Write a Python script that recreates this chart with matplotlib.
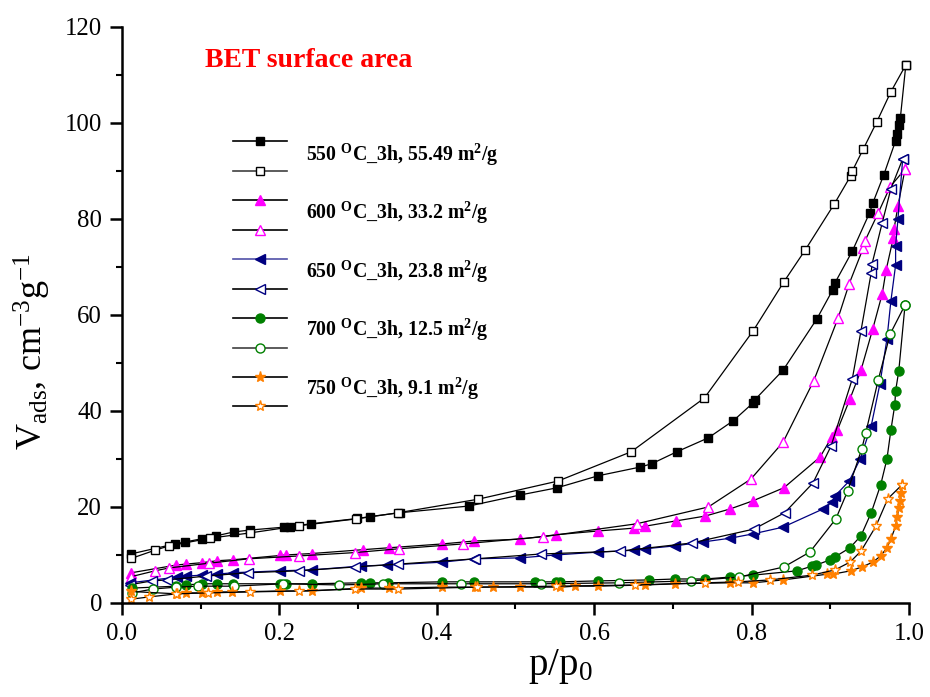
import matplotlib
matplotlib.use("Agg")
import matplotlib.pyplot as plt
from matplotlib.lines import Line2D
from matplotlib.ticker import MultipleLocator

plt.rcParams['font.family'] = ['Liberation Serif', 'DejaVu Serif']
plt.rcParams['mathtext.fontset'] = 'custom'
plt.rcParams['mathtext.rm'] = 'Liberation Serif'
plt.rcParams['mathtext.it'] = 'Liberation Serif:italic'
plt.rcParams['mathtext.bf'] = 'Liberation Serif:bold'

# ---------------- data ----------------
x550_ads = [0.011, 0.067, 0.08, 0.102, 0.12, 0.142, 0.163, 0.206, 0.213, 0.24, 0.299, 0.315, 0.353,
            0.441, 0.506, 0.553, 0.605, 0.658, 0.673, 0.705, 0.745, 0.777, 0.802, 0.804, 0.84, 0.883,
            0.903, 0.906, 0.928, 0.950, 0.954, 0.968, 0.983, 0.985, 0.987, 0.989, 0.996]
y550_ads = [10.2, 12.3, 12.7, 13.4, 14.0, 14.8, 15.2, 15.8, 15.9, 16.5, 17.6, 18.0, 18.8,
            20.2, 22.5, 24.0, 26.5, 28.3, 29.0, 31.5, 34.4, 38.0, 41.7, 42.3, 48.5, 59.2,
            65.2, 66.7, 73.3, 81.3, 83.3, 89.2, 96.3, 97.7, 99.6, 101.0, 112.1]
x550_des = [0.012, 0.042, 0.06, 0.112, 0.163, 0.225, 0.297, 0.351, 0.452, 0.554, 0.647, 0.740,
            0.802, 0.841, 0.868, 0.905, 0.926, 0.928, 0.942, 0.959, 0.977, 0.996]
y550_des = [9.3, 11.0, 11.9, 13.5, 14.6, 16.1, 17.5, 18.8, 21.6, 25.4, 31.5, 42.7,
            56.7, 66.9, 73.5, 83.1, 89.0, 90.0, 94.6, 100.2, 106.5, 112.1]

x600_ads = [0.012, 0.069, 0.081, 0.102, 0.121, 0.141, 0.201, 0.208, 0.241, 0.306, 0.339, 0.407,
            0.447, 0.506, 0.551, 0.605, 0.651, 0.665, 0.704, 0.741, 0.773, 0.802, 0.841, 0.887,
            0.902, 0.909, 0.925, 0.939, 0.954, 0.966, 0.971, 0.980, 0.981, 0.986, 0.995]
y600_ads = [6.3, 7.9, 8.1, 8.4, 8.8, 9.0, 9.9, 10.0, 10.3, 11.1, 11.5, 12.3,
            12.9, 13.3, 14.2, 15.0, 15.6, 16.0, 17.1, 18.1, 19.6, 21.3, 24.0, 30.4,
            34.6, 36.0, 42.5, 48.5, 57.1, 64.4, 69.4, 76.0, 77.9, 82.7, 90.4]
x600_des = [0.012, 0.042, 0.060, 0.111, 0.161, 0.225, 0.296, 0.352, 0.433, 0.535, 0.654, 0.745,
            0.799, 0.840, 0.879, 0.910, 0.924, 0.942, 0.944, 0.961, 0.976, 0.995]
y600_des = [5.5, 6.7, 7.3, 8.3, 9.2, 9.8, 10.5, 11.3, 12.3, 13.8, 16.5, 20.0,
            25.8, 33.5, 46.3, 59.4, 66.5, 74.0, 75.4, 81.3, 86.7, 90.4]

x650_ads = [0.010, 0.070, 0.081, 0.102, 0.121, 0.141, 0.201, 0.241, 0.304, 0.337, 0.407, 0.447,
            0.506, 0.551, 0.605, 0.651, 0.665, 0.703, 0.738, 0.773, 0.802, 0.840, 0.891, 0.902,
            0.906, 0.924, 0.938, 0.952, 0.963, 0.972, 0.977, 0.983, 0.983, 0.986, 0.992]
y650_ads = [4.2, 5.4, 5.6, 5.8, 6.0, 6.3, 6.7, 6.9, 7.7, 7.9, 8.5, 9.2,
            9.4, 10.0, 10.6, 11.0, 11.3, 11.9, 12.7, 13.5, 14.4, 15.8, 19.6, 21.0,
            22.3, 25.4, 30.0, 36.9, 45.6, 55.0, 62.9, 70.4, 74.4, 80.0, 92.5]
x650_des = [0.010, 0.038, 0.057, 0.107, 0.160, 0.225, 0.296, 0.351, 0.449, 0.532, 0.633, 0.724,
            0.803, 0.842, 0.878, 0.901, 0.928, 0.939, 0.952, 0.953, 0.966, 0.977, 0.992]
y650_des = [3.8, 4.6, 4.8, 5.6, 6.3, 6.7, 7.5, 8.1, 9.2, 10.2, 10.8, 12.5,
            15.4, 18.8, 25.0, 32.7, 46.7, 56.7, 68.8, 70.6, 79.2, 86.3, 92.5]

x700_ads = [0.013, 0.069, 0.081, 0.102, 0.121, 0.141, 0.201, 0.208, 0.241, 0.304, 0.315, 0.338,
            0.407, 0.447, 0.525, 0.551, 0.557, 0.605, 0.670, 0.703, 0.741, 0.773, 0.802, 0.858,
            0.877, 0.882, 0.900, 0.906, 0.925, 0.939, 0.952, 0.964, 0.972, 0.977, 0.982, 0.983,
            0.987, 0.995]
y700_ads = [3.1, 3.5, 3.75, 4.0, 4.0, 4.0, 4.0, 4.0, 4.0, 4.2, 4.2, 4.2,
            4.4, 4.4, 4.4, 4.4, 4.4, 4.6, 4.8, 5.0, 5.0, 5.4, 5.8, 6.7,
            7.7, 7.9, 9.0, 9.6, 11.5, 14.0, 18.8, 24.6, 30.0, 36.0, 41.3, 44.2,
            48.3, 62.1]
x700_des = [0.013, 0.039, 0.069, 0.097, 0.142, 0.205, 0.276, 0.332, 0.431, 0.532, 0.632, 0.723,
            0.784, 0.841, 0.874, 0.907, 0.922, 0.940, 0.945, 0.961, 0.976, 0.995]
y700_des = [2.1, 2.9, 3.3, 3.5, 3.5, 4.0, 3.75, 4.0, 4.0, 4.0, 4.2, 4.6,
            5.4, 7.5, 10.6, 17.5, 23.3, 32.1, 35.4, 46.5, 56.0, 62.1]

x750_ads = [0.011, 0.070, 0.081, 0.102, 0.121, 0.140, 0.201, 0.241, 0.304, 0.339, 0.407, 0.449,
            0.471, 0.506, 0.557, 0.576, 0.605, 0.665, 0.703, 0.773, 0.802, 0.840, 0.896, 0.903,
            0.926, 0.940, 0.954, 0.964, 0.972, 0.977, 0.983, 0.985, 0.987, 0.989, 0.990, 0.991]
y750_ads = [2.4, 1.9, 2.1, 2.1, 2.3, 2.3, 2.5, 2.5, 3.1, 3.1, 3.3, 3.3,
            3.3, 3.3, 3.3, 3.5, 3.5, 3.75, 4.0, 4.2, 4.2, 4.8, 6.0, 6.0,
            6.7, 7.5, 8.5, 9.8, 11.5, 13.3, 16.0, 17.9, 19.8, 21.3, 22.9, 24.6]
x750_des = [0.012, 0.034, 0.069, 0.109, 0.163, 0.225, 0.296, 0.351, 0.451, 0.551, 0.652, 0.741,
            0.783, 0.823, 0.877, 0.906, 0.925, 0.939, 0.958, 0.973, 0.991]
y750_des = [0.8, 1.25, 1.9, 2.1, 2.3, 2.5, 2.9, 2.9, 3.3, 3.5, 3.75, 4.2,
            4.4, 4.8, 5.8, 6.9, 8.5, 10.8, 16.0, 21.7, 24.6]

labels = [r'550 $^{\mathbf{O}}$C_3h, 55.49 m$^{\mathbf{2}}$/g',
          r'600 $^{\mathbf{O}}$C_3h, 33.2 m$^{\mathbf{2}}$/g',
          r'650 $^{\mathbf{O}}$C_3h, 23.8 m$^{\mathbf{2}}$/g',
          r'700 $^{\mathbf{O}}$C_3h, 12.5 m$^{\mathbf{2}}$/g',
          r'750 $^{\mathbf{O}}$C_3h, 9.1 m$^{\mathbf{2}}$/g']

# ---------------- styles ----------------
series = [
    (x550_ads, y550_ads, dict(marker='s', color='black', mfc='black', mec='black', ms=6), 'black'),
    (x550_des, y550_des, dict(marker='s', color='black', mfc='white', mec='black', ms=6), '#404040'),
    (x600_ads, y600_ads, dict(marker='^', color='black', mfc='#ff00ff', mec='#ff00ff', ms=7), 'black'),
    (x600_des, y600_des, dict(marker='^', color='black', mfc='white', mec='#ff00ff', ms=7), 'black'),
    (x650_ads, y650_ads, dict(marker='<', color='#000080', mfc='#000080', mec='#000080', ms=7), '#5050a8'),
    (x650_des, y650_des, dict(marker='<', color='black', mfc='white', mec='#000080', ms=7), 'black'),
    (x700_ads, y700_ads, dict(marker='o', color='black', mfc='#008000', mec='#008000', ms=6.5), 'black'),
    (x700_des, y700_des, dict(marker='o', color='black', mfc='white', mec='#008000', ms=6.5), '#404040'),
    (x750_ads, y750_ads, dict(marker='*', color='black', mfc='#ff8000', mec='#ff8000', ms=8), 'black'),
    (x750_des, y750_des, dict(marker='*', color='black', mfc='white', mec='#ff8000', ms=8), 'black'),
]

fig = plt.figure(figsize=(9.3, 6.97), dpi=100)
ax = fig.add_axes([0.1312, 0.1349, 0.8462, 0.8264])

handles = []
for xs, ys, st, lcol in series:
    ax.plot(xs, ys, lw=0.9, mew=1.0, clip_on=False, **st)
    hst = dict(st)
    hst['color'] = lcol
    handles.append(Line2D([], [], lw=1.2, mew=1.0, **hst))

ax.set_xlim(0, 1.0)
ax.set_ylim(0, 120)
ax.xaxis.set_major_locator(MultipleLocator(0.2))
ax.xaxis.set_minor_locator(MultipleLocator(0.1))
ax.yaxis.set_major_locator(MultipleLocator(20))
ax.yaxis.set_minor_locator(MultipleLocator(10))
ax.set_xticks([0.0, 0.2, 0.4, 0.6, 0.8, 1.0])
ax.set_xticklabels(['0.0', '0.2', '0.4', '0.6', '0.8', '1.0'])

for s in ['top', 'right']:
    ax.spines[s].set_visible(False)
for s in ['left', 'bottom']:
    ax.spines[s].set_linewidth(1.8)
ax.tick_params(which='major', direction='out', length=8.3, width=1.8, labelsize=17.8, pad=6)
ax.tick_params(which='minor', direction='out', length=4.3, width=1.5)

ax.set_xlabel(r'p/p$_{\mathrm{0}}$', fontsize=28)
ax.set_ylabel(r'V$_{\mathrm{ads}}$, cm$^{\mathrm{-3}}$g$^{\mathrm{-1}}$', fontsize=26)
ax.xaxis.set_label_coords(0.557, -0.076)
ax.yaxis.set_label_coords(-0.088, 0.436)

leg = ax.legend(handles, [''] * 10, loc='upper left', bbox_to_anchor=(0.141, 0.813),
                frameon=False, fontsize=13, handlelength=3.0, labelspacing=0.69,
                borderpad=0, borderaxespad=0, handletextpad=0)

text_y = [0.778, 0.677, 0.575, 0.474, 0.372]
for lab, ty in zip(labels, text_y):
    ax.text(0.234, ty, lab, transform=ax.transAxes, fontsize=14.3, fontweight='bold',
            va='center', ha='left')

ax.text(0.105, 0.941, 'BET surface area', transform=ax.transAxes, fontsize=20,
        fontweight='bold', color='red', va='center', ha='left')

fig.savefig('out.png', dpi=100)
